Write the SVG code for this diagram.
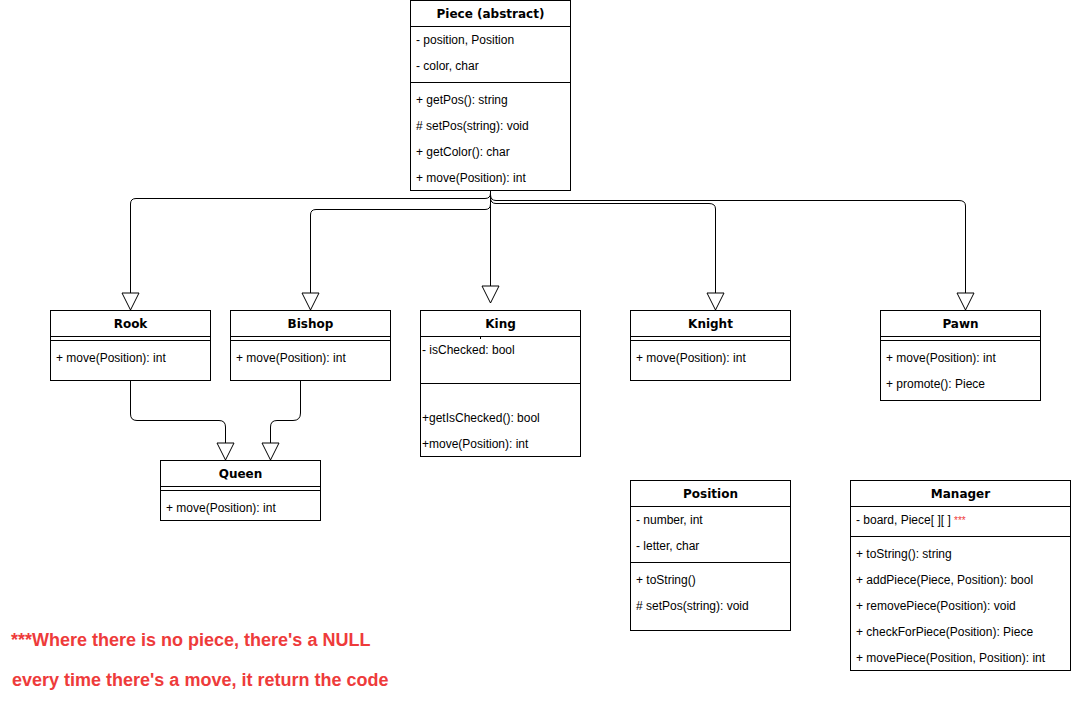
<svg xmlns="http://www.w3.org/2000/svg" width="1071" height="711" viewBox="0 0 1071 711">
  <style>
    .box { fill: #ffffff; stroke: #000000; stroke-width: 1; }
    .sep { stroke: #000000; stroke-width: 1; fill: none; }
    .title { font-family: "DejaVu Sans", Verdana, sans-serif; font-weight: bold; font-size: 12px; fill: #000000; text-anchor: middle; }
    .row { font-family: "Liberation Sans", Arial, sans-serif; font-size: 12px; fill: #000000; }
    .edge { fill: none; stroke: #000000; stroke-width: 1; marker-end: url(#inherit); }
    .note { font-family: "Liberation Sans", Arial, sans-serif; font-weight: bold; font-size: 18px; fill: #EE3B3B; }
    .star { fill: #EE3B3B; font-size: 10px; }
  </style>
  <defs>
    <!-- hollow triangle for generalisation -->
    <marker id="inherit" markerUnits="userSpaceOnUse" markerWidth="18" markerHeight="18" refX="17" refY="8.5" orient="auto" overflow="visible">
      <path d="M0,0 L17,8.5 L0,17 Z" fill="#ffffff" stroke="#000000" stroke-width="1"/>
    </marker>
  </defs>
  <rect width="1071" height="711" fill="#ffffff"/>

  <g id="connectors">
    <path class="edge" d="M490.5,190 V193 Q490.5,198.5 485,198.5 H136 Q130.5,198.5 130.5,204 V310"/>
    <path class="edge" d="M490.5,190 V204 Q490.5,209.5 485,209.5 H316 Q310.5,209.5 310.5,215 V310"/>
    <path class="edge" d="M490.5,190 V303"/>
    <path class="edge" d="M490.5,190 V197.5 Q490.5,203.5 496,203.5 H709 Q715.5,203.5 715.5,209 V310"/>
    <path class="edge" d="M490.5,190 V194.5 Q490.5,200.5 496,200.5 H959 Q965.5,200.5 965.5,206 V310"/>
    <path class="edge" d="M130.5,380 V414 Q130.5,420.5 137,420.5 H219 Q225.5,420.5 225.5,427 V460"/>
    <path class="edge" d="M300.5,380 V413 Q300.5,420.5 293,420.5 H277 Q270.5,420.5 270.5,427 V460"/>
  </g>

  <g id="piece">
    <rect class="box" x="410.5" y="0.5" width="160" height="190"/>
    <path class="sep" d="M410.5,26.5 H570.5 M410.5,82.5 H570.5"/>
    <text class="title" x="490.5" y="17.5">Piece (abstract)</text>
    <text class="row" x="416" y="43.5">- position, Position</text>
    <text class="row" x="416" y="69.5">- color, char</text>
    <text class="row" x="416" y="103.5">+ getPos(): string</text>
    <text class="row" x="416" y="129.5"># setPos(string): void</text>
    <text class="row" x="416" y="155.5">+ getColor(): char</text>
    <text class="row" x="416" y="181.5">+ move(Position): int</text>
  </g>

  <g id="rook">
    <rect class="box" x="50.5" y="310.5" width="160" height="70"/>
    <path class="sep" d="M50.5,336.5 H210.5 M50.5,340.5 H210.5"/>
    <text class="title" x="130.5" y="327.5">Rook</text>
    <text class="row" x="56" y="361.5">+ move(Position): int</text>
  </g>

  <g id="bishop">
    <rect class="box" x="230.5" y="310.5" width="160" height="70"/>
    <path class="sep" d="M230.5,336.5 H390.5 M230.5,340.5 H390.5"/>
    <text class="title" x="310.5" y="327.5">Bishop</text>
    <text class="row" x="236" y="361.5">+ move(Position): int</text>
  </g>

  <g id="king">
    <rect class="box" x="420.5" y="310.5" width="160" height="146"/>
    <path class="sep" d="M420.5,336.5 H580.5 M420.5,383.5 H580.5 M480.5,336.5 V339"/>
    <text class="title" x="500.5" y="327.5">King</text>
    <text class="row" x="422" y="353.5">- isChecked: bool</text>
    <text class="row" x="422" y="421.5">+getIsChecked(): bool</text>
    <text class="row" x="422" y="447.5">+move(Position): int</text>
  </g>

  <g id="knight">
    <rect class="box" x="630.5" y="310.5" width="160" height="70"/>
    <path class="sep" d="M630.5,336.5 H790.5 M630.5,340.5 H790.5"/>
    <text class="title" x="710.5" y="327.5">Knight</text>
    <text class="row" x="636" y="361.5">+ move(Position): int</text>
  </g>

  <g id="pawn">
    <rect class="box" x="880.5" y="310.5" width="160" height="90"/>
    <path class="sep" d="M880.5,336.5 H1040.5 M880.5,340.5 H1040.5"/>
    <text class="title" x="960.5" y="327.5">Pawn</text>
    <text class="row" x="886" y="361.5">+ move(Position): int</text>
    <text class="row" x="886" y="387.5">+ promote(): Piece</text>
  </g>

  <g id="queen">
    <rect class="box" x="160.5" y="460.5" width="160" height="60"/>
    <path class="sep" d="M160.5,486.5 H320.5 M160.5,490.5 H320.5"/>
    <text class="title" x="240.5" y="477.5">Queen</text>
    <text class="row" x="166" y="511.5">+ move(Position): int</text>
  </g>

  <g id="position">
    <rect class="box" x="630.5" y="480.5" width="160" height="150"/>
    <path class="sep" d="M630.5,506.5 H790.5 M630.5,562.5 H790.5"/>
    <text class="title" x="710.5" y="497.5">Position</text>
    <text class="row" x="636" y="523.5">- number, int</text>
    <text class="row" x="636" y="549.5">- letter, char</text>
    <text class="row" x="636" y="583.5">+ toString()</text>
    <text class="row" x="636" y="609.5"># setPos(string): void</text>
  </g>

  <g id="manager">
    <rect class="box" x="850.5" y="480.5" width="220" height="190"/>
    <path class="sep" d="M850.5,506.5 H1070.5 M850.5,536.5 H1070.5"/>
    <text class="title" x="960.5" y="497.5">Manager</text>
    <text class="row" x="856" y="523.5">- board, Piece[ ][ ] <tspan class="star">***</tspan></text>
    <text class="row" x="856" y="557.5">+ toString(): string</text>
    <text class="row" x="856" y="583.5">+ addPiece(Piece, Position): bool</text>
    <text class="row" x="856" y="609.5">+ removePiece(Position): void</text>
    <text class="row" x="856" y="635.5">+ checkForPiece(Position): Piece</text>
    <text class="row" x="856" y="661.5">+ movePiece(Position, Position): int</text>
  </g>

  <g id="notes">
    <text class="note" x="11" y="646">***Where there is no piece, there's a NULL</text>
    <text class="note" x="12" y="686">every time there's a move, it return the code</text>
  </g>
</svg>
